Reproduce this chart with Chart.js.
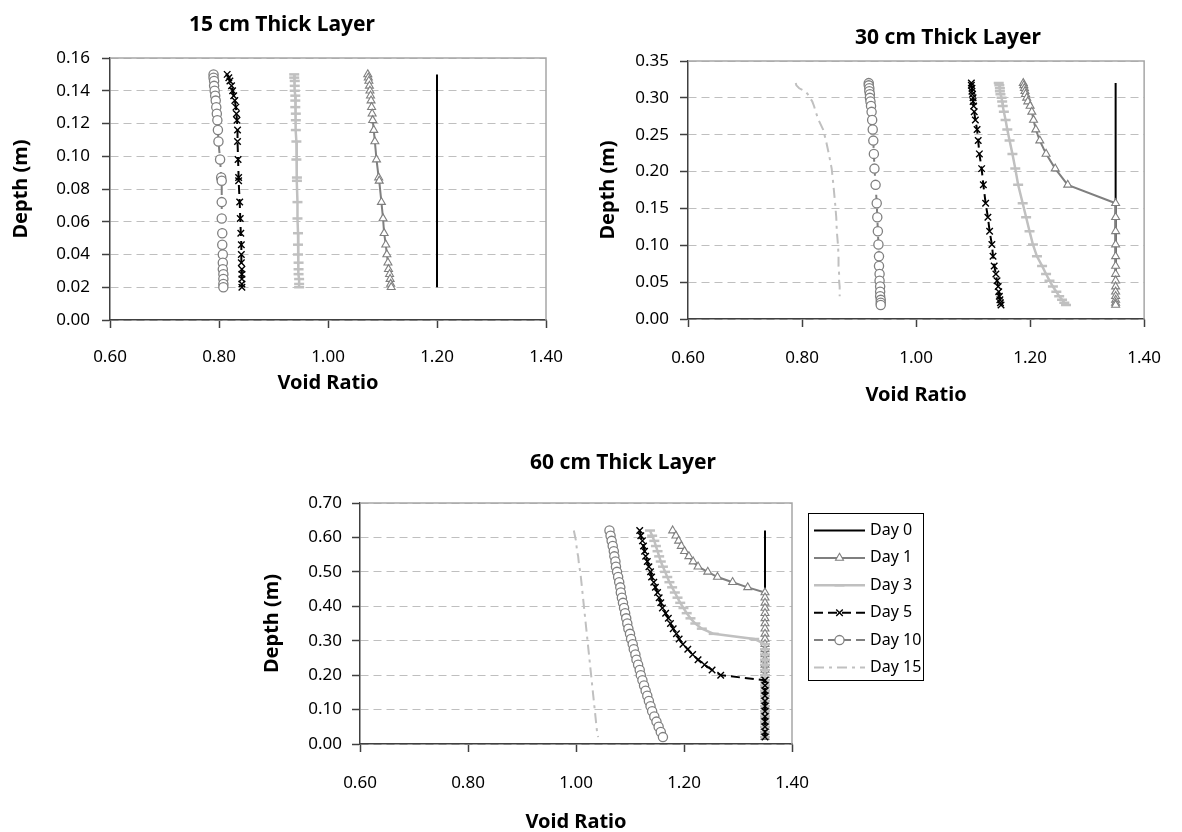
<!DOCTYPE html>
<html>
<head>
<meta charset="utf-8">
<script src="https://cdn.jsdelivr.net/npm/chart.js@4.4.1/dist/chart.umd.min.js"></script>
<style>
  html, body { margin: 0; padding: 0; background: #fff; }
  #page { position: relative; width: 1182px; height: 832px; }
  canvas { position: absolute; }
</style>
</head>
<body>
<div id="page">
  <canvas id="c15" width="591" height="410" style="left:0;top:0"></canvas>
  <canvas id="c30" width="591" height="410" style="left:591px;top:0"></canvas>
  <canvas id="c60" width="1182" height="422" style="left:0;top:410px"></canvas>
</div>
<script>
// axis ticks
const xTicks = [0.6, 0.8, 1.0, 1.2, 1.4]
const yTicks15 = [0, 0.02, 0.04, 0.06, 0.08, 0.10, 0.12, 0.14, 0.16]
const yTicks30 = [0, 0.05, 0.10, 0.15, 0.20, 0.25, 0.30, 0.35]
const yTicks60 = [0, 0.1, 0.2, 0.3, 0.4, 0.5, 0.6, 0.7]
const dayLabels = ["Day 0", "Day 1", "Day 3", "Day 5", "Day 10", "Day 15"]

// 15 cm layer (depth in m, void ratio)
const depth15 = [0.150, 0.148, 0.146, 0.143, 0.140, 0.137, 0.134, 0.130, 0.126, 0.122, 0.116, 0.109, 0.098, 0.087, 0.085, 0.072, 0.062, 0.053, 0.046, 0.040, 0.035, 0.031, 0.028, 0.025, 0.022, 0.020]
const day0Depth15 = [0.150, 0.020]
const day0_15 = [1.20, 1.20]
const day1_15 = [1.073, 1.074, 1.075, 1.076, 1.077, 1.078, 1.079, 1.080, 1.081, 1.082, 1.084, 1.086, 1.089, 1.093, 1.094, 1.098, 1.101, 1.103, 1.106, 1.108, 1.110, 1.111, 1.113, 1.114, 1.115, 1.116]
const day3_15 = [0.938, 0.938, 0.939, 0.939, 0.939, 0.940, 0.940, 0.940, 0.941, 0.941, 0.941, 0.942, 0.942, 0.943, 0.943, 0.944, 0.944, 0.945, 0.945, 0.945, 0.946, 0.946, 0.946, 0.947, 0.947, 0.947]
const day5_15 = [0.815, 0.818, 0.820, 0.823, 0.825, 0.827, 0.829, 0.831, 0.832, 0.833, 0.834, 0.834, 0.835, 0.836, 0.836, 0.838, 0.839, 0.840, 0.841, 0.841, 0.841, 0.842, 0.842, 0.842, 0.842, 0.842]
const day10_15 = [0.790, 0.790, 0.791, 0.791, 0.792, 0.793, 0.794, 0.795, 0.796, 0.797, 0.798, 0.799, 0.802, 0.804, 0.805, 0.805, 0.805, 0.806, 0.806, 0.807, 0.807, 0.807, 0.808, 0.808, 0.808, 0.808]

// 30 cm layer
const depth30 = [0.320, 0.317, 0.313, 0.309, 0.305, 0.300, 0.295, 0.289, 0.281, 0.270, 0.257, 0.242, 0.224, 0.204, 0.182, 0.157, 0.138, 0.119, 0.101, 0.085, 0.072, 0.061, 0.052, 0.044, 0.037, 0.031, 0.026, 0.022, 0.019]
const day0Depth30 = [0.320, 0.019]
const day0_30 = [1.35, 1.35]
const day1_30 = [1.188, 1.189, 1.190, 1.191, 1.192, 1.194, 1.196, 1.200, 1.203, 1.206, 1.210, 1.217, 1.228, 1.244, 1.266, 1.350, 1.350, 1.350, 1.350, 1.350, 1.350, 1.350, 1.350, 1.350, 1.350, 1.350, 1.350, 1.350, 1.350]
const day3_30 = [1.145, 1.146, 1.147, 1.147, 1.148, 1.150, 1.151, 1.152, 1.154, 1.157, 1.160, 1.164, 1.169, 1.174, 1.179, 1.187, 1.193, 1.199, 1.205, 1.212, 1.221, 1.228, 1.234, 1.240, 1.246, 1.251, 1.256, 1.260, 1.263]
const day5_30 = [1.097, 1.097, 1.098, 1.098, 1.099, 1.100, 1.100, 1.101, 1.102, 1.104, 1.107, 1.109, 1.111, 1.115, 1.118, 1.122, 1.126, 1.129, 1.133, 1.135, 1.137, 1.140, 1.142, 1.144, 1.145, 1.146, 1.147, 1.148, 1.149]
const day10_30 = [0.917, 0.917, 0.918, 0.918, 0.919, 0.919, 0.920, 0.921, 0.922, 0.923, 0.924, 0.925, 0.926, 0.927, 0.929, 0.931, 0.932, 0.933, 0.934, 0.935, 0.935, 0.936, 0.936, 0.937, 0.937, 0.937, 0.938, 0.938, 0.938]
const day15_30 = [0.789, 0.790, 0.795, 0.805, 0.810, 0.814, 0.818, 0.821, 0.824, 0.829, 0.837, 0.842, 0.847, 0.852, 0.855, 0.858, 0.860, 0.861, 0.863, 0.864, 0.864, 0.865, 0.865, 0.866, 0.866, 0.866]

// 60 cm layer
const depth60 = [0.620, 0.605, 0.590, 0.575, 0.560, 0.545, 0.530, 0.515, 0.500, 0.485, 0.470, 0.455, 0.440, 0.425, 0.410, 0.395, 0.380, 0.365, 0.350, 0.335, 0.320, 0.305, 0.290, 0.275, 0.260, 0.245, 0.230, 0.215, 0.200, 0.185, 0.170, 0.155, 0.140, 0.125, 0.110, 0.095, 0.080, 0.065, 0.050, 0.035, 0.020]
const day0Depth60 = [0.620, 0.020]
const day0_60 = [1.35, 1.35]
const day1_60 = [1.179, 1.185, 1.190, 1.195, 1.201, 1.209, 1.217, 1.226, 1.244, 1.262, 1.290, 1.318, 1.350, 1.350, 1.350, 1.350, 1.350, 1.350, 1.350, 1.350, 1.350, 1.350, 1.350, 1.350, 1.350, 1.350, 1.350, 1.350, 1.350, 1.350, 1.350, 1.350, 1.350, 1.350, 1.350, 1.350, 1.350, 1.350, 1.350, 1.350, 1.350]
const day3_60 = [1.137, 1.141, 1.145, 1.148, 1.151, 1.154, 1.157, 1.161, 1.165, 1.169, 1.173, 1.178, 1.183, 1.188, 1.193, 1.199, 1.205, 1.212, 1.221, 1.233, 1.255, 1.330, 1.350, 1.350, 1.350, 1.350, 1.350, 1.350, 1.350, 1.350, 1.350, 1.350, 1.350, 1.350, 1.350, 1.350, 1.350, 1.350, 1.350, 1.350, 1.350]
const day5_60 = [1.118, 1.120, 1.123, 1.125, 1.127, 1.129, 1.132, 1.135, 1.138, 1.140, 1.144, 1.147, 1.151, 1.154, 1.157, 1.160, 1.166, 1.171, 1.175, 1.180, 1.186, 1.191, 1.198, 1.207, 1.216, 1.226, 1.238, 1.252, 1.268, 1.350, 1.350, 1.350, 1.350, 1.350, 1.350, 1.350, 1.350, 1.350, 1.350, 1.350, 1.350]
const day10_60 = [1.062, 1.064, 1.066, 1.068, 1.070, 1.071, 1.073, 1.074, 1.076, 1.078, 1.080, 1.082, 1.083, 1.085, 1.087, 1.089, 1.091, 1.093, 1.095, 1.097, 1.100, 1.102, 1.105, 1.107, 1.110, 1.112, 1.115, 1.118, 1.120, 1.123, 1.126, 1.129, 1.132, 1.135, 1.138, 1.141, 1.145, 1.149, 1.153, 1.157, 1.161]
const day15_60 = [0.996, 0.998, 1.000, 1.001, 1.002, 1.004, 1.005, 1.006, 1.008, 1.009, 1.010, 1.011, 1.012, 1.013, 1.014, 1.015, 1.016, 1.017, 1.018, 1.019, 1.020, 1.021, 1.022, 1.023, 1.024, 1.025, 1.026, 1.027, 1.028, 1.029, 1.030, 1.031, 1.032, 1.033, 1.034, 1.035, 1.036, 1.037, 1.038, 1.039, 1.041]

const FONT = "'Comic Sans MS', 'Noto Sans', sans-serif"

// line / marker look of each day, same in all three charts
const dayStyles = [
  { borderColor: "#000", borderWidth: 2, pointRadius: 0, order: 6 },
  { borderColor: "#7f7f7f", borderWidth: 2, pointStyle: "triangle", pointRadius: 4.6, pointBorderColor: "#7f7f7f", pointBackgroundColor: "#fff", pointBorderWidth: 1.1, order: 5 },
  { borderColor: "#c0c0c0", borderWidth: 2.5, pointStyle: "line", pointRadius: 5, pointBorderColor: "#c0c0c0", pointBackgroundColor: "#c0c0c0", pointBorderWidth: 2.5, order: 4 },
  { borderColor: "#000", borderWidth: 2, borderDash: [9, 5], pointStyle: "crossRot", pointRadius: 4.6, pointBorderColor: "#000", pointBackgroundColor: "#000", pointBorderWidth: 1.4, order: 3 },
  { borderColor: "#808080", borderWidth: 2, borderDash: [9, 5], pointStyle: "circle", pointRadius: 4.6, pointBorderColor: "#808080", pointBackgroundColor: "#fff", pointBorderWidth: 1.3, order: 2 },
  { borderColor: "#c0c0c0", borderWidth: 2, borderDash: [10, 5, 3, 5], pointRadius: 0, order: 1 },
]

function pts(xs, ys) {
  return xs.map((x, i) => ({ x: x, y: ys[i] }))
}

function series(dayIndex, xs, ys) {
  return Object.assign({
    label: dayLabels[dayIndex],
    data: pts(xs, ys),
    showLine: true,
    fill: false,
    tension: 0,
  }, dayStyles[dayIndex])
}

// top and right edge of the plot area
const plotFrame = {
  id: "plotFrame",
  beforeDatasetsDraw(chart) {
    const { ctx, chartArea: a } = chart
    ctx.save()
    ctx.strokeStyle = "#a6a6a6"
    ctx.lineWidth = 1.5
    ctx.beginPath()
    ctx.moveTo(a.left, a.top)
    ctx.lineTo(a.right, a.top)
    ctx.lineTo(a.right, a.bottom)
    ctx.stroke()
    ctx.restore()
  },
}

// chart title placed where Excel put it (not centred on the plot)
const titleAt = {
  id: "titleAt",
  afterDraw(chart, args, opts) {
    if (!opts || !opts.text) return
    const ctx = chart.ctx
    ctx.save()
    ctx.font = "bold 21px " + FONT
    ctx.fillStyle = "#000"
    ctx.textAlign = "center"
    ctx.textBaseline = "middle"
    ctx.fillText(opts.text, opts.x, opts.y)
    ctx.restore()
  },
}

// boxed legend with line + marker samples
const boxLegend = {
  id: "boxLegend",
  afterDraw(chart, args, o) {
    if (!o || !o.display) return
    const ctx = chart.ctx
    ctx.save()
    ctx.fillStyle = "#fff"
    ctx.fillRect(o.left, o.top, o.width, o.height)
    ctx.strokeStyle = "#000"
    ctx.lineWidth = 1
    ctx.strokeRect(o.left + 0.5, o.top + 0.5, o.width, o.height)
    chart.data.datasets.forEach((ds, i) => {
      const y = o.top + o.first + i * o.gap
      const x0 = o.left + 6
      const x1 = x0 + 51
      ctx.setLineDash(ds.borderDash || [])
      ctx.strokeStyle = ds.borderColor
      ctx.lineWidth = ds.borderWidth
      ctx.beginPath()
      ctx.moveTo(x0, y)
      ctx.lineTo(x1, y)
      ctx.stroke()
      ctx.setLineDash([])
      if (ds.pointRadius > 0) {
        ctx.fillStyle = ds.pointBackgroundColor
        ctx.strokeStyle = ds.pointBorderColor
        ctx.lineWidth = ds.pointBorderWidth
        Chart.helpers.drawPoint(ctx, { pointStyle: ds.pointStyle, radius: ds.pointRadius, borderWidth: ds.pointBorderWidth, rotation: 0 }, (x0 + x1) / 2, y)
      }
      ctx.fillStyle = "#000"
      ctx.font = "16px " + FONT
      ctx.textAlign = "left"
      ctx.textBaseline = "middle"
      ctx.fillText(ds.label, x1 + 5, y)
    })
    ctx.restore()
  },
}

function makeChart(id, c) {
  return new Chart(document.getElementById(id), {
    type: "scatter",
    data: { datasets: c.datasets },
    options: {
      responsive: false,
      animation: false,
      devicePixelRatio: 1,
      layout: { padding: c.pad },
      plugins: {
        legend: { display: false },
        tooltip: { enabled: false },
        titleAt: c.title,
        boxLegend: c.legend || { display: false },
      },
      scales: {
        x: {
          type: "linear",
          min: 0.6,
          max: 1.4,
          afterBuildTicks: (s) => { s.ticks = xTicks.map((v) => ({ value: v })) },
          afterFit: (s) => { s.height = c.xh },
          ticks: { padding: c.xPad, color: "#000", font: { family: FONT, size: 17 }, callback: (v) => Number(v).toFixed(2) },
          grid: { drawOnChartArea: false, tickLength: 8, tickColor: "#404040", tickWidth: 1.5, tickBorderDash: [] },
          border: { color: "#404040", width: 1.5 },
          title: { display: true, text: "Void Ratio", color: "#000", font: { family: FONT, size: 20, weight: "bold", lineHeight: 1 }, padding: { top: 0, bottom: c.xTitlePad } },
        },
        y: {
          type: "linear",
          min: 0,
          max: c.ymax,
          afterBuildTicks: (s) => { s.ticks = c.yTicks.map((v) => ({ value: v })) },
          afterFit: (s) => { s.width = c.yw },
          ticks: { padding: c.yPad, color: "#000", font: { family: FONT, size: 17 }, callback: (v) => Number(v).toFixed(2) },
          grid: { color: "#bfbfbf", lineWidth: 1, tickLength: 8, tickColor: "#404040", tickWidth: 1.5, tickBorderDash: [] },
          border: { color: "#404040", width: 1.5, dash: [8, 5] },
          title: { display: true, text: "Depth (m)", color: "#000", font: { family: FONT, size: 20, weight: "bold", lineHeight: 1 }, padding: { top: c.yTitlePad, bottom: 0 } },
        },
      },
    },
    plugins: [plotFrame, titleAt, boxLegend],
  })
}

makeChart("c15", {
  datasets: [
    series(0, day0_15, day0Depth15),
    series(1, day1_15, depth15),
    series(2, day3_15, depth15),
    series(3, day5_15, depth15),
    series(4, day10_15, depth15),
  ],
  pad: { left: 0, right: 45, top: 58, bottom: 0 },
  yw: 110, xh: 90, xPad: 19, yPad: 12, xTitlePad: 17, yTitlePad: 11,
  ymax: 0.16, yTicks: yTicks15,
  title: { text: "15 cm Thick Layer", x: 282, y: 25 },
})

makeChart("c30", {
  datasets: [
    series(0, day0_30, day0Depth30),
    series(1, day1_30, depth30),
    series(2, day3_30, depth30),
    series(3, day5_30, depth30),
    series(4, day10_30, depth30),
    series(5, day15_30, depth30),
  ],
  pad: { left: 0, right: 26, top: 61, bottom: 0 },
  yw: 97, xh: 91, xPad: 21, yPad: 11, xTitlePad: 5, yTitlePad: 7,
  ymax: 0.35, yTicks: yTicks30,
  title: { text: "30 cm Thick Layer", x: 357, y: 38 },
})

makeChart("c60", {
  datasets: [
    series(0, day0_60, day0Depth60),
    series(1, day1_60, depth60),
    series(2, day3_60, depth60),
    series(3, day5_60, depth60),
    series(4, day10_60, depth60),
    series(5, day15_60, depth60),
  ],
  pad: { left: 250, right: 390, top: 93, bottom: 0 },
  yw: 110, xh: 88, xPad: 21, yPad: 10, xTitlePad: 0, yTitlePad: 12,
  ymax: 0.7, yTicks: yTicks60,
  title: { text: "60 cm Thick Layer", x: 623, y: 53 },
  legend: { display: true, left: 808, top: 103, width: 115, height: 167, first: 17.5, gap: 27.4 },
})
</script>
</body>
</html>
